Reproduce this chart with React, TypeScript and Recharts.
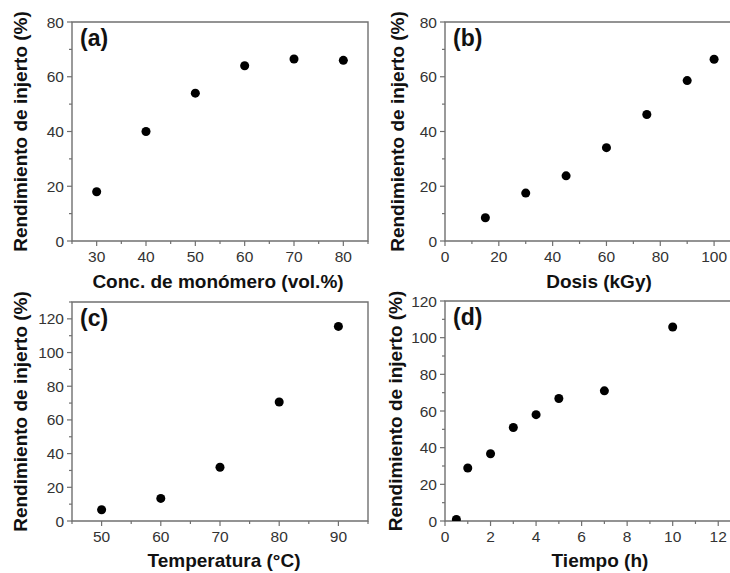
import React from 'react';
import { ScatterChart, Scatter, XAxis, YAxis, ZAxis, ReferenceArea, Label } from 'recharts';

// (a) monomer concentration
const concX = [30, 40, 50, 60, 70, 80];
const concY = [18, 40, 54, 64, 66.5, 66];
// (b) dose
const doseX = [15, 30, 45, 60, 75, 90, 100];
const doseY = [8.5, 17.5, 23.8, 34.1, 46.2, 58.6, 66.4];
// (c) temperature
const tempX = [50, 60, 70, 80, 90];
const tempY = [6.7, 13.4, 31.9, 70.6, 115.5];
// (d) time
const timeX = [0.5, 1, 2, 3, 4, 5, 7, 10];
const timeY = [0.8, 28.9, 36.7, 51, 58, 66.8, 71, 105.8];

// ticks (all) and the labelled ones
const concTicks = [25, 30, 35, 40, 45, 50, 55, 60, 65, 70, 75, 80, 85];
const concMajor = [30, 40, 50, 60, 70, 80];
const doseTicks = [0, 10, 20, 30, 40, 50, 60, 70, 80, 90, 100, 110];
const doseMajor = [0, 20, 40, 60, 80, 100];
const tempTicks = [45, 50, 55, 60, 65, 70, 75, 80, 85, 90, 95];
const tempMajor = [50, 60, 70, 80, 90];
const timeTicks = [0, 1, 2, 3, 4, 5, 6, 7, 8, 9, 10, 11, 12, 13];
const timeMajor = [0, 2, 4, 6, 8, 10, 12];

const y80Ticks = [0, 10, 20, 30, 40, 50, 60, 70, 80];
const y80Major = [0, 20, 40, 60, 80];
const y130Ticks = [0, 10, 20, 30, 40, 50, 60, 70, 80, 90, 100, 110, 120, 130];
const y120Ticks = [0, 10, 20, 30, 40, 50, 60, 70, 80, 90, 100, 110, 120];
const y120Major = [0, 20, 40, 60, 80, 100, 120];

const yLabel = 'Rendimiento de injerto (%)';

const AXIS = '#707070';
const TICK_TEXT = '#333';
const FONT = 'Liberation Sans, Arial, sans-serif';

const zip = (xs: number[], ys: number[]) => xs.map((x, i) => ({ x, y: ys[i] }));

const XTick = (props: any) => {
  const { x, y, payload, major } = props;
  const v = payload.value;
  const isMajor = major.includes(v);
  return (
    <g>
      <line x1={x} x2={x} y1={y} y2={y + (isMajor ? 5 : 3)} stroke={AXIS} strokeWidth={1.2} />
      {isMajor && (
        <text x={x} y={y + 21} textAnchor="middle" fontSize={15.5} fill={TICK_TEXT} fontFamily={FONT}>
          {v}
        </text>
      )}
    </g>
  );
};

const YTick = (props: any) => {
  const { x, y, payload, major } = props;
  const v = payload.value;
  const isMajor = major.includes(v);
  return (
    <g>
      <line x1={x - (isMajor ? 5 : 3)} x2={x} y1={y} y2={y} stroke={AXIS} strokeWidth={1.2} />
      {isMajor && (
        <text x={x - 8} y={y + 5.5} textAnchor="end" fontSize={15.5} fill={TICK_TEXT} fontFamily={FONT}>
          {v}
        </text>
      )}
    </g>
  );
};

interface PanelProps {
  left: number;
  top: number;
  width: number;
  height: number;
  plot: { left: number; top: number; right: number; bottom: number };
  xs: number[];
  ys: number[];
  xDomain: [number, number];
  yDomain: [number, number];
  xTicks: number[];
  xMajor: number[];
  yTicks: number[];
  yMajor: number[];
  xLabel: string;
  xLabelDx: number;
  xLabelOffset: number;
  yLabelX: number;
  tag: string;
}

const Panel = (p: PanelProps) => (
  <div style={{ position: 'absolute', left: p.left, top: p.top }}>
    <ScatterChart
      width={p.width}
      height={p.height}
      margin={{ top: p.plot.top, right: p.width - p.plot.right, left: 0, bottom: 0 }}
    >
      <XAxis
        type="number"
        dataKey="x"
        domain={p.xDomain}
        ticks={p.xTicks}
        interval={0}
        allowDataOverflow
        height={p.height - p.plot.bottom}
        axisLine={false}
        tickLine={false}
        tickSize={0}
        tickMargin={0}
        tick={<XTick major={p.xMajor} />}
      >
        <Label
          value={p.xLabel}
          position="insideBottom"
          offset={p.xLabelOffset}
          dx={p.xLabelDx}
          style={{ fontSize: 19, fontWeight: 'bold', fill: '#111', fontFamily: FONT }}
        />
      </XAxis>
      <YAxis
        type="number"
        dataKey="y"
        domain={p.yDomain}
        ticks={p.yTicks}
        interval={0}
        allowDataOverflow
        width={p.plot.left}
        axisLine={false}
        tickLine={false}
        tickSize={0}
        tickMargin={0}
        tick={<YTick major={p.yMajor} />}
      >
        <Label
          value={yLabel}
          angle={-90}
          position="insideLeft"
          offset={p.yLabelX}
          style={{ textAnchor: 'middle', fontSize: 19, fontWeight: 'bold', fill: '#111', fontFamily: FONT }}
        />
      </YAxis>
      <ZAxis range={[56, 56]} />
      <ReferenceArea
        x1={p.xDomain[0]}
        x2={p.xDomain[1]}
        y1={p.yDomain[0]}
        y2={p.yDomain[1]}
        fill="none"
        stroke={AXIS}
        strokeWidth={1.4}
        ifOverflow="visible"
        label={{
          value: p.tag,
          position: 'insideTopLeft',
          offset: 8,
          style: { fontSize: 23, fontWeight: 'bold', fill: '#111', fontFamily: FONT },
        }}
      />
      <Scatter data={zip(p.xs, p.ys)} fill="#000" isAnimationActive={false} />
    </ScatterChart>
  </div>
);

export default function App() {
  return (
    <div
      style={{
        position: 'absolute',
        left: 0,
        top: 0,
        width: 730,
        height: 573,
        overflow: 'hidden',
        background: '#fff',
      }}
    >
      <Panel
        left={0}
        top={0}
        width={380}
        height={292}
        plot={{ left: 72, top: 22, right: 368, bottom: 241 }}
        xs={concX}
        ys={concY}
        xDomain={[25, 85]}
        yDomain={[0, 80]}
        xTicks={concTicks}
        xMajor={concMajor}
        yTicks={y80Ticks}
        yMajor={y80Major}
        xLabel="Conc. de monómero (vol.%)"
        xLabelDx={-2}
        xLabelOffset={4}
        yLabelX={20}
        tag="(a)"
      />
      <Panel
        left={365}
        top={0}
        width={380}
        height={292}
        plot={{ left: 80, top: 22, right: 376, bottom: 241 }}
        xs={doseX}
        ys={doseY}
        xDomain={[0, 110]}
        yDomain={[0, 80]}
        xTicks={doseTicks}
        xMajor={doseMajor}
        yTicks={y80Ticks}
        yMajor={y80Major}
        xLabel="Dosis (kGy)"
        xLabelDx={6}
        xLabelOffset={4}
        yLabelX={32}
        tag="(b)"
      />
      <Panel
        left={0}
        top={280}
        width={380}
        height={293}
        plot={{ left: 72, top: 22, right: 368, bottom: 241 }}
        xs={tempX}
        ys={tempY}
        xDomain={[45, 95]}
        yDomain={[0, 130]}
        xTicks={tempTicks}
        xMajor={tempMajor}
        yTicks={y130Ticks}
        yMajor={y120Major}
        xLabel="Temperatura (°C)"
        xLabelDx={4}
        xLabelOffset={6}
        yLabelX={20}
        tag="(c)"
      />
      <Panel
        left={365}
        top={280}
        width={380}
        height={293}
        plot={{ left: 80, top: 21, right: 376, bottom: 241 }}
        xs={timeX}
        ys={timeY}
        xDomain={[0, 13]}
        yDomain={[0, 120]}
        xTicks={timeTicks}
        xMajor={timeMajor}
        yTicks={y120Ticks}
        yMajor={y120Major}
        xLabel="Tiempo (h)"
        xLabelDx={7}
        xLabelOffset={6}
        yLabelX={30}
        tag="(d)"
      />
    </div>
  );
}
